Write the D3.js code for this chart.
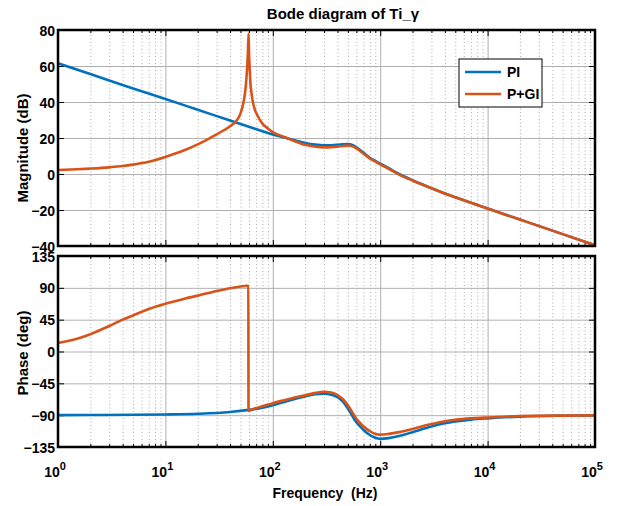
<!DOCTYPE html>
<html>
<head>
<meta charset="utf-8">
<script src="https://cdn.jsdelivr.net/npm/d3@7/dist/d3.min.js"></script>
<style>
  body { margin: 0; background: #fff; }
  text { font-family: "Liberation Sans", Arial, sans-serif; font-weight: bold; fill: #000; }
  .tick text { font-family: "Liberation Sans Narrow", "Liberation Sans", Arial, sans-serif; font-size: 14px; }
</style>
</head>
<body>
<div id="bode"></div>
<script>
// values
var freqPI = [1, 2, 5, 10, 20, 40, 60, 80, 100, 130, 160, 200, 250, 300, 350, 400, 450, 500, 550, 600, 650, 700,
              800, 900, 1000, 1200, 1500, 2000, 3000, 4000, 5000, 7000, 10000, 20000, 50000, 100000];
var magPI = [61.5, 55.5, 47.5, 41.7, 35.7, 29.7, 26.2, 23.8, 22.0, 20.2, 18.8, 17.2, 16.3, 16.0, 16.0, 16.2, 16.5, 16.6, 16.1, 14.8, 13.3, 11.8,
             9.0, 7.3, 5.8, 3.2, 0.0, -3.5, -7.9, -10.8, -12.9, -16.0, -19.2, -25.3, -33.4, -39.6];
var phasePI = [-90, -89.8, -89.5, -89, -88, -85.5, -82.5, -79.5, -76, -71, -67, -63.5, -60.5, -59.8, -61, -64.5, -71, -80.5, -91, -100, -106, -111,
               -118, -122, -123.5, -122.5, -119.5, -114, -106, -101.5, -99, -96.3, -94.5, -92, -90.8, -90.5];

var freqPGIMag = [1, 1.5, 2, 3, 4, 5, 7, 10, 15, 20, 26, 30, 35, 40, 45, 50, 52.5, 54, 56, 57.5, 58.6, 59.5,
                  60.1, 61, 62, 63.5, 65, 68, 72, 80, 90, 100, 115, 130, 160, 200, 250, 300, 350, 400, 450, 500, 550,
                  600, 650, 700, 800, 900, 1000, 1200, 1500, 2000, 3000, 4000, 5000, 7000, 10000, 20000, 50000, 100000];
var magPGI = [2.2, 2.6, 3.0, 3.7, 4.4, 5.2, 6.8, 9.5, 13.2, 16.5, 20.0, 22.0, 24.3, 26.5, 29.0, 33.5, 38, 41.5, 48.5, 57.8, 67, 78,
              67, 57.8, 50, 44.5, 40.5, 35.8, 32.5, 28, 25.3, 23.3, 21.6, 20.4, 18.2, 16.2, 15.2, 14.8, 14.9, 15.2, 15.6, 15.8, 15.4,
              14.2, 12.8, 11.3, 8.6, 6.9, 5.4, 2.9, -0.3, -3.6, -7.9, -10.8, -12.9, -16.0, -19.2, -25.3, -33.4, -39.6];

var freqPGIPhase = [1, 1.5, 2, 3, 4, 5, 7, 10, 15, 20, 30, 40, 50, 57, 59.2, 59.4, 62, 70, 80, 100, 130, 160, 200, 250, 300,
                    350, 400, 450, 500, 550, 600, 650, 700, 800, 900, 1000, 1200, 1500, 2000, 3000, 4000, 5000, 7000, 10000, 20000, 50000, 100000];
var phasePGI = [12, 18, 24.5, 36, 45, 51, 60, 67.5, 74.5, 79, 85.5, 89.5, 92, 93, 92.5, -84, -83, -80, -77.5, -73, -68.5, -65, -62, -58.5, -57,
                -58, -61.5, -67.5, -76, -86, -95, -101, -106, -112.5, -116.5, -117.5, -116.5, -114, -109.5, -102.5, -98.5, -96.5, -94.5, -93.2, -91.4, -90.6, -90.3];

var decades = [1, 10, 100, 1000, 10000, 100000];
var magTicks = [80, 60, 40, 20, 0, -20, -40];
var phaseTicks = [135, 90, 45, 0, -45, -90, -135];
var seriesNames = ["PI", "P+GI"];
var colors = ["#0072bd", "#d95319"];

var width = 622, height = 506;
var left = 58, right = 595;
var magTop = 30, magBottom = 246;
var phTop = 256, phBottom = 447;

var svg = d3.select("#bode").append("svg")
    .attr("width", width)
    .attr("height", height);

var x = d3.scaleLog().domain([1, 1e5]).range([left, right]);
var yMag = d3.scaleLinear().domain([-40, 80]).range([magBottom, magTop]);
var yPh = d3.scaleLinear().domain([-135, 135]).range([phBottom, phTop]);

var minor = [];
decades.slice(0, -1).forEach(function (d) {
    for (var k = 2; k < 10; k++) minor.push(d * k);
});

function panel(y, ticks, top, bottom, id) {
    var g = svg.append("g");
    var h = bottom - top;

    // minor grid (dotted)
    g.append("g")
        .attr("transform", "translate(0," + bottom + ")")
        .call(d3.axisBottom(x).tickValues(minor).tickSize(-h).tickFormat(""))
        .call(function (a) { a.select(".domain").remove(); })
        .selectAll("line").attr("stroke", "#acacac").attr("stroke-dasharray", "1,2.5");

    // major grid
    g.append("g")
        .attr("transform", "translate(0," + bottom + ")")
        .call(d3.axisBottom(x).tickValues(decades).tickSize(-h).tickFormat(""))
        .call(function (a) { a.select(".domain").remove(); })
        .selectAll("line").attr("stroke", "#b0b0b0");
    g.append("g")
        .attr("transform", "translate(" + left + ",0)")
        .call(d3.axisLeft(y).tickValues(ticks).tickSize(-(right - left)).tickFormat(""))
        .call(function (a) { a.select(".domain").remove(); })
        .selectAll("line").attr("stroke", "#b0b0b0");

    // inward tick marks on all four sides
    [[d3.axisBottom, bottom, decades, 6], [d3.axisTop, top, decades, 6],
     [d3.axisBottom, bottom, minor, 3], [d3.axisTop, top, minor, 3]].forEach(function (t) {
        g.append("g")
            .attr("transform", "translate(0," + t[1] + ")")
            .call(t[0](x).tickValues(t[2]).tickSize(-t[3]).tickFormat(""))
            .call(function (a) { a.select(".domain").remove(); });
    });
    g.append("g")
        .attr("transform", "translate(" + right + ",0)")
        .call(d3.axisRight(y).tickValues(ticks).tickSize(-6).tickFormat(""))
        .call(function (a) { a.select(".domain").remove(); });
    g.append("g")
        .attr("transform", "translate(" + left + ",0)")
        .call(d3.axisLeft(y).tickValues(ticks).tickSize(-6).tickPadding(3).tickFormat(d3.format("d")))
        .call(function (a) { a.select(".domain").remove(); })
        .selectAll("text").attr("dy", "0.36em");

    svg.append("clipPath").attr("id", id)
        .append("rect").attr("x", left).attr("y", top).attr("width", right - left).attr("height", h);
    return g;
}

var gMag = panel(yMag, magTicks, magTop, magBottom, "clipMag");
var gPh = panel(yPh, phaseTicks, phTop, phBottom, "clipPh");

function drawLine(g, clip, fx, fy, y, color) {
    var pts = fx.map(function (f, i) { return [f, fy[i]]; });
    g.append("path")
        .datum(pts)
        .attr("clip-path", "url(#" + clip + ")")
        .attr("fill", "none")
        .attr("stroke", color)
        .attr("stroke-width", 2.6)
        .attr("stroke-linejoin", "round")
        .attr("d", d3.line()
            .curve(d3.curveMonotoneX)
            .x(function (d) { return x(d[0]); })
            .y(function (d) { return y(d[1]); }));
}

drawLine(gMag, "clipMag", freqPI, magPI, yMag, colors[0]);
drawLine(gMag, "clipMag", freqPGIMag, magPGI, yMag, colors[1]);
drawLine(gPh, "clipPh", freqPI, phasePI, yPh, colors[0]);
drawLine(gPh, "clipPh", freqPGIPhase, phasePGI, yPh, colors[1]);

// frames
[[magTop, magBottom], [phTop, phBottom]].forEach(function (p) {
    svg.append("rect")
        .attr("x", left).attr("y", p[0])
        .attr("width", right - left).attr("height", p[1] - p[0])
        .attr("fill", "none").attr("stroke", "#000").attr("stroke-width", 2.5);
});

// x tick labels 10^n
var xl = svg.append("g").attr("class", "tick");
decades.forEach(function (d) {
    var t = xl.append("text")
        .attr("x", x(d) - 3)
        .attr("y", 477)
        .attr("text-anchor", "middle");
    t.append("tspan").text("10");
    t.append("tspan").attr("dy", -7).style("font-size", "11px").text(Math.round(Math.log10(d)));
});

// title and labels
svg.append("text")
    .attr("x", 343).attr("y", 19)
    .attr("text-anchor", "middle")
    .style("font-size", "15px")
    .text("Bode diagram of Ti_γ");

svg.append("text")
    .attr("transform", "translate(28," + 148 + ") rotate(-90)")
    .attr("text-anchor", "middle")
    .style("font-size", "15px")
    .text("Magnitude (dB)");

svg.append("text")
    .attr("transform", "translate(28," + 353 + ") rotate(-90)")
    .attr("text-anchor", "middle")
    .style("font-size", "15px")
    .text("Phase (deg)");

svg.append("text")
    .attr("x", 325).attr("y", 498)
    .attr("text-anchor", "middle")
    .style("font-size", "14px")
    .style("white-space", "pre")
    .text("Frequency  (Hz)");

// legend
var lg = svg.append("g");
lg.append("rect")
    .attr("x", 459).attr("y", 59).attr("width", 83).attr("height", 48)
    .attr("fill", "#fff").attr("stroke", "#000").attr("stroke-width", 1);
seriesNames.forEach(function (name, i) {
    var yy = 72 + i * 22;
    lg.append("line")
        .attr("x1", 465).attr("x2", 501).attr("y1", yy).attr("y2", yy)
        .attr("stroke", colors[i]).attr("stroke-width", 2.6);
    lg.append("text")
        .attr("x", 507).attr("y", yy + 5)
        .style("font-size", "14px")
        .text(name);
});
</script>
</body>
</html>
